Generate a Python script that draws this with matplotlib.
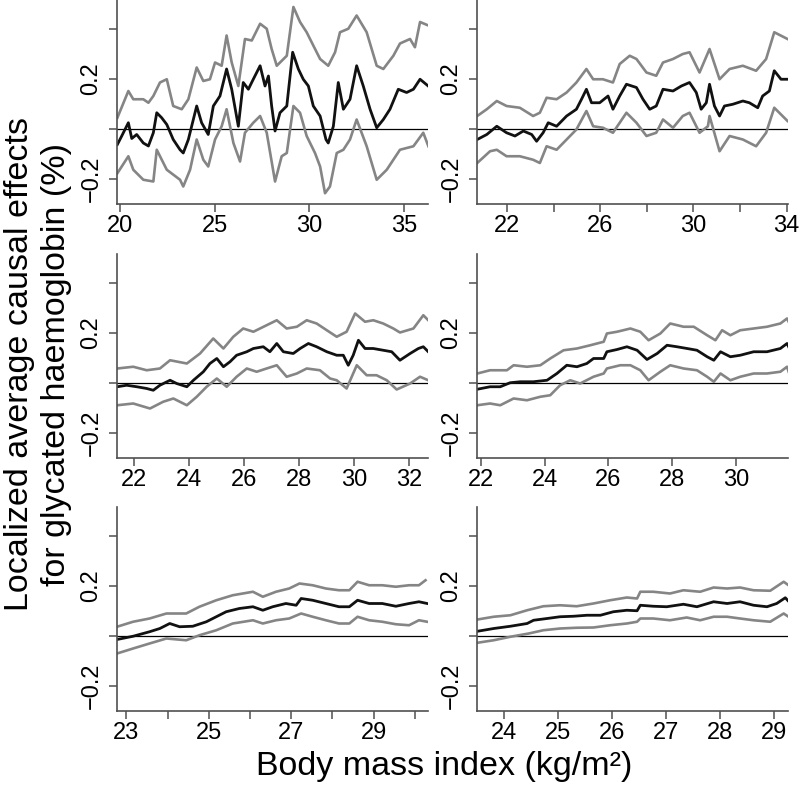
import matplotlib
matplotlib.use("Agg")
import matplotlib.pyplot as plt

plt.rcParams['font.family'] = ['Liberation Sans', 'DejaVu Sans']

# panel 1 (top left)
p1_est_x = [19.86, 20.09, 20.44, 20.62, 20.88, 21.23, 21.50, 21.76, 21.94, 22.20,
            22.47, 22.81, 23.17, 23.34, 23.61, 24.05, 24.31, 24.66, 24.93, 25.28,
            25.63, 25.90, 26.25, 26.51, 26.78, 27.04, 27.40, 27.66, 27.84, 28.01,
            28.19, 28.45, 28.81, 29.12, 29.42, 29.68, 29.95, 30.21, 30.57, 30.88,
            31.00, 31.27, 31.53, 31.80, 32.15, 32.50, 32.85, 33.21, 33.56, 33.91,
            34.26, 34.70, 35.14, 35.50, 35.85, 36.28]
p1_est = [-0.064, -0.03, 0.023, -0.04, -0.024, -0.058, -0.07, -0.017, 0.063, 0.043,
          0.016, -0.044, -0.085, -0.098, -0.044, 0.09, 0.023, -0.024, 0.09, 0.13,
          0.238, 0.157, 0.009, 0.184, 0.157, 0.197, 0.251, 0.17, 0.21, 0.09,
          -0.01, 0.063, 0.09, 0.305, 0.238, 0.197, 0.17, 0.09, 0.05, -0.044,
          -0.058, 0.009, 0.184, 0.077, 0.117, 0.251, 0.17, 0.077, 0.003, 0.036,
          0.077, 0.157, 0.144, 0.157, 0.197, 0.17]
p1_hi_x = [19.86, 20.44, 20.70, 21.23, 21.50, 21.76, 22.11, 22.47, 22.81, 23.26,
           23.61, 24.05, 24.40, 24.75, 25.02, 25.37, 25.63, 25.90, 26.25, 26.60,
           26.96, 27.40, 27.75, 28.01, 28.28, 28.81, 29.16, 29.51, 29.86, 30.21,
           30.57, 31.00, 31.36, 31.62, 32.06, 32.50, 33.03, 33.56, 33.91, 34.44,
           34.79, 35.32, 35.58, 35.85, 36.29]
p1_hi = [0.043, 0.15, 0.117, 0.117, 0.103, 0.13, 0.184, 0.197, 0.09, 0.077,
         0.117, 0.244, 0.19, 0.197, 0.264, 0.251, 0.372, 0.264, 0.17, 0.358,
         0.352, 0.419, 0.399, 0.318, 0.251, 0.291, 0.486, 0.426, 0.385, 0.332,
         0.278, 0.251, 0.305, 0.385, 0.399, 0.452, 0.385, 0.251, 0.238, 0.291,
         0.34, 0.358, 0.325, 0.426, 0.412]
p1_lo_x = [19.86, 20.44, 20.70, 21.23, 21.76, 21.94, 22.47, 23.17, 23.34, 23.70,
           24.05, 24.40, 24.66, 25.02, 25.37, 25.63, 25.99, 26.34, 26.60, 27.04,
           27.40, 27.75, 28.19, 28.54, 28.81, 29.16, 29.51, 29.86, 30.30, 30.57,
           30.83, 31.09, 31.45, 31.80, 32.15, 32.50, 33.03, 33.56, 34.09, 34.79,
           35.50, 36.02, 36.29]
p1_lo = [-0.179, -0.111, -0.165, -0.205, -0.212, -0.085, -0.165, -0.205, -0.232, -0.165,
         -0.044, -0.125, -0.152, -0.044, 0.009, 0.077, -0.058, -0.132, -0.017, 0.023,
         0.05, -0.017, -0.212, -0.111, -0.098, 0.09, 0.063, -0.03, -0.098, -0.152,
         -0.259, -0.232, -0.098, -0.085, -0.044, 0.036, -0.071, -0.205, -0.165, -0.085,
         -0.071, -0.017, -0.071]

# panel 2 (top right)
p2_est_x = [20.71, 21.12, 21.55, 21.97, 22.33, 22.69, 23.05, 23.26, 23.54, 23.76,
            24.12, 24.55, 24.97, 25.19, 25.40, 25.62, 25.97, 26.33, 26.54, 26.83,
            27.12, 27.55, 27.83, 28.12, 28.40, 28.69, 29.12, 29.48, 29.83, 30.12,
            30.33, 30.55, 30.69, 30.90, 31.12, 31.33, 31.69, 32.12, 32.40, 32.76,
            32.97, 33.26, 33.47, 33.76, 34.04]
p2_est = [-0.044, -0.024, 0.009, -0.017, -0.03, -0.01, -0.024, -0.051, -0.017, 0.023,
          0.009, 0.05, 0.077, 0.117, 0.157, 0.103, 0.103, 0.13, 0.077, 0.13,
          0.177, 0.164, 0.117, 0.077, 0.09, 0.157, 0.15, 0.17, 0.184, 0.144,
          0.077, 0.103, 0.177, 0.09, 0.05, 0.09, 0.097, 0.11, 0.103, 0.083,
          0.13, 0.15, 0.231, 0.197, 0.197]
p2_hi_x = [20.71, 21.12, 21.55, 21.97, 22.54, 23.11, 23.40, 23.69, 24.12, 24.55,
           24.97, 25.40, 25.69, 26.11, 26.54, 26.83, 27.26, 27.55, 27.98, 28.40,
           28.69, 29.12, 29.54, 29.83, 30.26, 30.69, 31.12, 31.55, 32.12, 32.69,
           33.12, 33.47, 34.04]
p2_hi = [0.05, 0.077, 0.11, 0.09, 0.083, 0.05, 0.063, 0.123, 0.117, 0.144,
         0.184, 0.238, 0.197, 0.197, 0.184, 0.258, 0.291, 0.278, 0.224, 0.211,
         0.264, 0.278, 0.298, 0.305, 0.224, 0.318, 0.197, 0.238, 0.251, 0.231,
         0.278, 0.385, 0.358]
p2_lo_x = [20.71, 21.26, 21.55, 21.97, 22.54, 23.11, 23.40, 23.69, 24.12, 24.55,
           24.97, 25.40, 25.69, 26.11, 26.54, 26.83, 27.12, 27.55, 27.98, 28.40,
           28.69, 29.12, 29.54, 29.83, 30.26, 30.62, 30.69, 31.12, 31.55, 32.12,
           32.69, 33.12, 33.47, 34.04]
p2_lo = [-0.138, -0.091, -0.085, -0.111, -0.111, -0.125, -0.138, -0.071, -0.085, -0.044,
         -0.004, 0.07, 0.009, 0.003, -0.017, 0.023, 0.063, 0.023, -0.03, -0.017,
         0.036, 0.003, 0.05, 0.063, -0.017, 0.009, 0.05, -0.091, -0.03, -0.044,
         -0.071, -0.017, 0.083, 0.03]

# panel 3 (middle left)
p3_est_x = [21.38, 21.72, 22.09, 22.45, 22.69, 22.93, 23.30, 23.54, 23.91, 24.15,
            24.51, 24.75, 25.00, 25.24, 25.48, 25.72, 26.09, 26.33, 26.69, 26.93,
            27.18, 27.42, 27.78, 28.03, 28.33, 28.63, 29.00, 29.36, 29.60, 29.78,
            29.96, 30.15, 30.39, 30.69, 31.05, 31.36, 31.66, 32.03, 32.33, 32.51, 32.69]
p3_est = [-0.017, -0.011, -0.017, -0.024, -0.031, -0.011, 0.009, -0.004, -0.017, 0.009,
          0.043, 0.076, 0.096, 0.063, 0.083, 0.109, 0.123, 0.136, 0.143, 0.123,
          0.156, 0.123, 0.116, 0.136, 0.156, 0.143, 0.123, 0.109, 0.109, 0.069,
          0.109, 0.169, 0.136, 0.136, 0.129, 0.123, 0.089, 0.116, 0.136, 0.143, 0.123]
p3_hi_x = [21.38, 21.96, 22.45, 22.93, 23.30, 23.91, 24.39, 24.87, 25.24, 25.60,
           25.96, 26.33, 26.81, 27.18, 27.54, 27.91, 28.27, 28.63, 29.00, 29.36,
           29.72, 30.03, 30.39, 30.69, 31.05, 31.42, 31.66, 32.15, 32.51, 32.69]
p3_hi = [0.056, 0.063, 0.049, 0.056, 0.089, 0.076, 0.116, 0.176, 0.136, 0.183,
         0.216, 0.203, 0.229, 0.249, 0.216, 0.223, 0.249, 0.236, 0.209, 0.183,
         0.203, 0.276, 0.243, 0.249, 0.236, 0.216, 0.2, 0.216, 0.269, 0.249]
p3_lo_x = [21.38, 21.96, 22.57, 23.05, 23.42, 23.91, 24.27, 24.63, 25.00, 25.36,
           25.72, 26.09, 26.45, 26.81, 27.18, 27.54, 27.91, 28.27, 28.75, 29.12,
           29.36, 29.72, 30.09, 30.45, 30.81, 31.18, 31.54, 32.03, 32.39, 32.69]
p3_lo = [-0.091, -0.084, -0.104, -0.077, -0.064, -0.091, -0.057, -0.017, 0.016, -0.017,
         0.023, 0.056, 0.043, 0.056, 0.069, 0.023, 0.036, 0.056, 0.049, 0.016,
         0.009, -0.024, 0.069, 0.029, 0.029, 0.009, -0.028, -0.004, 0.023, 0.009]

# panel 4 (middle right)
p4_est_x = [21.88, 22.28, 22.60, 22.91, 23.23, 23.64, 24.07, 24.38, 24.69, 25.01,
            25.32, 25.53, 25.85, 25.95, 26.27, 26.58, 26.90, 27.21, 27.53, 27.84,
            28.15, 28.47, 28.78, 29.10, 29.31, 29.52, 29.83, 30.14, 30.56, 30.98,
            31.40, 31.61, 31.66]
p4_est = [-0.027, -0.017, -0.017, -0.001, 0.003, 0.003, 0.009, 0.036, 0.069, 0.063,
          0.076, 0.096, 0.096, 0.123, 0.132, 0.143, 0.129, 0.092, 0.116, 0.149,
          0.143, 0.136, 0.129, 0.103, 0.089, 0.123, 0.103, 0.109, 0.123, 0.123,
          0.136, 0.156, 0.143]
p4_hi_x = [21.88, 22.28, 22.81, 23.02, 23.44, 23.86, 24.17, 24.59, 25.01, 25.43,
           25.85, 25.95, 26.27, 26.69, 27.00, 27.26, 27.63, 27.94, 28.36, 28.68,
           29.10, 29.36, 29.57, 29.83, 30.14, 30.56, 30.98, 31.40, 31.61, 31.66]
p4_hi = [0.036, 0.049, 0.049, 0.069, 0.063, 0.069, 0.096, 0.129, 0.136, 0.149,
         0.163, 0.196, 0.203, 0.216, 0.203, 0.169, 0.196, 0.236, 0.223, 0.223,
         0.189, 0.169, 0.209, 0.189, 0.209, 0.216, 0.223, 0.236, 0.256, 0.243]
p4_lo_x = [21.88, 22.28, 22.60, 23.02, 23.44, 23.86, 24.17, 24.48, 24.80, 25.11,
           25.53, 25.85, 25.95, 26.37, 26.69, 27.00, 27.26, 27.63, 27.94, 28.36,
           28.78, 29.10, 29.31, 29.52, 29.83, 30.14, 30.56, 30.98, 31.40, 31.61, 31.66]
p4_lo = [-0.091, -0.084, -0.091, -0.064, -0.071, -0.057, -0.051, -0.011, 0.009, -0.004,
         0.023, 0.036, 0.056, 0.069, 0.069, 0.049, 0.009, 0.043, 0.069, 0.056,
         0.049, 0.023, 0.003, 0.036, 0.009, 0.023, 0.036, 0.036, 0.043, 0.063, 0.043]

# panel 5 (bottom left)
p5_est_x = [22.77, 23.16, 23.56, 23.81, 24.05, 24.29, 24.61, 24.94, 25.18, 25.42,
            25.74, 26.07, 26.31, 26.55, 26.87, 27.12, 27.24, 27.52, 27.84, 28.16,
            28.41, 28.61, 28.89, 29.21, 29.54, 29.86, 30.10, 30.30]
p5_est = [-0.016, -0.003, 0.015, 0.028, 0.048, 0.035, 0.037, 0.055, 0.075, 0.095,
          0.108, 0.115, 0.101, 0.115, 0.128, 0.121, 0.148, 0.141, 0.128, 0.115,
          0.115, 0.141, 0.128, 0.128, 0.117, 0.128, 0.135, 0.128]
p5_hi_x = [22.77, 23.16, 23.56, 23.97, 24.45, 24.77, 25.18, 25.58, 26.07, 26.31,
           26.63, 26.95, 27.20, 27.52, 27.84, 28.16, 28.41, 28.61, 28.89, 29.21,
           29.54, 29.86, 30.10, 30.26]
p5_hi = [0.035, 0.055, 0.068, 0.088, 0.088, 0.115, 0.141, 0.161, 0.175, 0.155,
         0.175, 0.188, 0.208, 0.201, 0.188, 0.181, 0.181, 0.215, 0.201, 0.201,
         0.195, 0.201, 0.201, 0.221]
p5_lo_x = [22.77, 23.16, 23.56, 23.97, 24.45, 24.77, 25.18, 25.58, 26.07, 26.31,
           26.63, 26.95, 27.24, 27.52, 27.84, 28.16, 28.41, 28.61, 28.89, 29.21,
           29.54, 29.86, 30.10, 30.30]
p5_lo = [-0.072, -0.052, -0.032, -0.012, -0.019, 0.001, 0.021, 0.048, 0.061, 0.048,
         0.061, 0.068, 0.088, 0.075, 0.061, 0.048, 0.048, 0.075, 0.061, 0.055,
         0.045, 0.041, 0.061, 0.055]

# panel 6 (bottom right)
p6_est_x = [23.50, 23.80, 24.11, 24.42, 24.54, 24.79, 25.03, 25.28, 25.53, 25.78,
            26.02, 26.27, 26.46, 26.52, 26.76, 27.01, 27.32, 27.57, 27.88, 28.13,
            28.37, 28.62, 28.87, 29.05, 29.21, 29.27]
p6_est = [0.017, 0.028, 0.037, 0.048, 0.061, 0.068, 0.075, 0.077, 0.081, 0.081,
          0.095, 0.101, 0.099, 0.121, 0.117, 0.115, 0.125, 0.115, 0.135, 0.128,
          0.135, 0.121, 0.115, 0.128, 0.151, 0.137]
p6_hi_x = [23.50, 23.80, 24.11, 24.42, 24.72, 25.03, 25.34, 25.65, 25.96, 26.27,
           26.46, 26.52, 26.76, 27.07, 27.32, 27.63, 27.88, 28.13, 28.37, 28.62,
           28.93, 29.18, 29.27]
p6_hi = [0.064, 0.075, 0.081, 0.101, 0.117, 0.121, 0.117, 0.128, 0.141, 0.152,
         0.148, 0.175, 0.175, 0.168, 0.181, 0.175, 0.192, 0.188, 0.192, 0.181,
         0.179, 0.215, 0.201]
p6_lo_x = [23.50, 23.80, 24.11, 24.45, 24.72, 25.03, 25.34, 25.65, 25.96, 26.27,
           26.46, 26.52, 26.76, 27.07, 27.38, 27.63, 27.88, 28.13, 28.37, 28.62,
           28.93, 29.18, 29.27]
p6_lo = [-0.029, -0.019, -0.005, 0.008, 0.021, 0.028, 0.031, 0.032, 0.041, 0.048,
         0.055, 0.068, 0.068, 0.061, 0.072, 0.061, 0.075, 0.075, 0.068, 0.061,
         0.055, 0.088, 0.075]

# axis limits and ticks
xlims = [(19.84, 36.27), (20.70, 34.06), (21.37, 32.68),
         (21.87, 31.64), (22.77, 30.32), (23.49, 29.26)]
xticks = [[20, 25, 30, 35], [22, 24, 26, 28, 30, 32, 34], [22, 24, 26, 28, 30, 32],
          [22, 24, 26, 28, 30], [23, 24, 25, 26, 27, 28, 29, 30], [24, 25, 26, 27, 28, 29]]
xticklabels = [['20', '25', '30', '35'], ['22', '', '26', '', '30', '', '34'],
               ['22', '24', '26', '28', '30', '32'], ['22', '24', '26', '28', '30'],
               ['23', '', '25', '', '27', '', '29', ''], ['24', '25', '26', '27', '28', '29']]
yticks = [-0.2, 0.0, 0.2, 0.4]
yticklabels = ['\u22120.2', '', '0.2', '']

panels = [
    (p1_est_x, p1_est, p1_hi_x, p1_hi, p1_lo_x, p1_lo),
    (p2_est_x, p2_est, p2_hi_x, p2_hi, p2_lo_x, p2_lo),
    (p3_est_x, p3_est, p3_hi_x, p3_hi, p3_lo_x, p3_lo),
    (p4_est_x, p4_est, p4_hi_x, p4_hi, p4_lo_x, p4_lo),
    (p5_est_x, p5_est, p5_hi_x, p5_hi, p5_lo_x, p5_lo),
    (p6_est_x, p6_est, p6_hi_x, p6_hi, p6_lo_x, p6_lo),
]

fig = plt.figure(figsize=(8, 7.86), dpi=100)

W, H = 800, 786
lefts = [117, 477]
tops = [0, 254, 507]
pw, ph = 311, 204

axis_col = '#505050'
for i, (ex, ey, hx, hy, lx, ly) in enumerate(panels):
    r, c = divmod(i, 2)
    ax = fig.add_axes([lefts[c] / W, 1 - (tops[r] + ph) / H, pw / W, ph / H])
    ax.axhline(0, color='black', lw=0.9)
    ax.plot(hx, hy, color='#858585', lw=1.9)
    ax.plot(lx, ly, color='#858585', lw=1.9)
    ax.plot(ex, ey, color='#111111', lw=2.0)
    ax.set_xlim(*xlims[i])
    ax.set_ylim(-0.302, 0.514)
    ax.spines['top'].set_visible(False)
    ax.spines['right'].set_visible(False)
    for s in ('left', 'bottom'):
        ax.spines[s].set_color(axis_col)
        ax.spines[s].set_linewidth(1.2)
    ax.set_xticks(xticks[i])
    ax.set_xticklabels(xticklabels[i], fontsize=17)
    ax.set_yticks(yticks)
    ax.set_yticklabels(yticklabels, fontsize=17, rotation=90, va='center')
    ax.tick_params(axis='both', direction='out', length=5.5, width=1.1, color=axis_col)
    ax.tick_params(axis='x', pad=2.5)
    ax.tick_params(axis='y', pad=5)

fig.text(444 / W, 1 - 775 / H, 'Body mass index (kg/m\u00b2)', fontsize=24.5,
         ha='center', va='baseline')
fig.text(38 / W, 1 - 364 / H, 'Localized average causal effects\nfor glycated haemoglobin (%)',
         fontsize=24.5, rotation=90, ha='center', va='center', linespacing=1.22,
         multialignment='center')

fig.savefig('out.png', dpi=100)
